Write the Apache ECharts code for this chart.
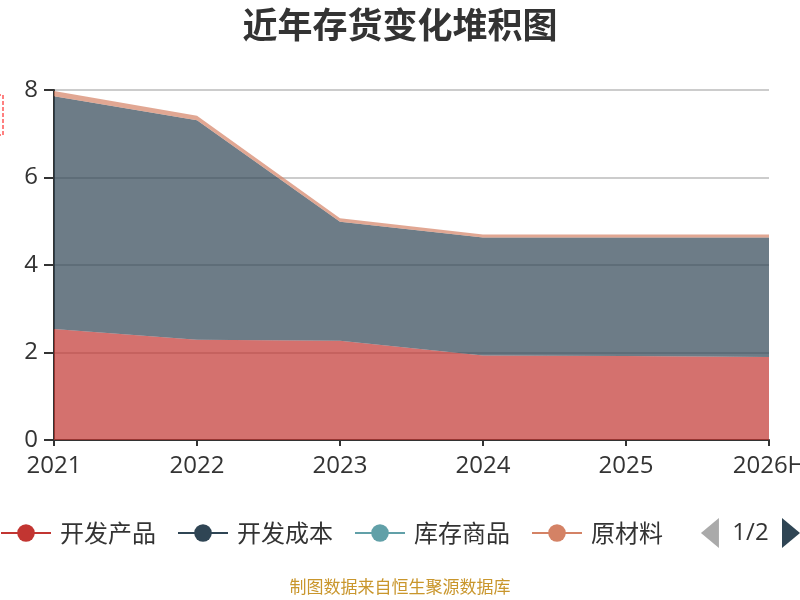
<!DOCTYPE html>
<html>
<head>
<meta charset="utf-8">
<script src="https://cdn.jsdelivr.net/npm/echarts@6/dist/echarts.min.js"></script>
<style>
  html, body { margin: 0; padding: 0; background: #fff; }
  #chart { width: 800px; height: 600px; }
</style>
</head>
<body>
<div id="chart"></div>
<script>
// 存货构成，单位：亿元
const years = ["2021", "2022", "2023", "2024", "2025", "2026H"];
const devProducts = [2.54, 2.29, 2.27, 1.93, 1.92, 1.90];   // 开发产品
const devCost = [5.32, 5.02, 2.72, 2.70, 2.71, 2.73];       // 开发成本
const goodsStock = [0, 0, 0, 0, 0, 0];                      // 库存商品
const rawMaterial = [0.12, 0.10, 0.08, 0.07, 0.07, 0.07];   // 原材料
const turnover = [0, 0, 0, 0, 0, 0];                        // 周转材料（第2页图例）

const colors = ["#c23531", "#2f4554", "#61a0a8", "#d48265", "#91c7ae"];
const font = "'Noto Sans CJK SC', 'Noto Sans', sans-serif";
const numFont = "'Open Sans', 'Noto Sans CJK SC', sans-serif";

function stackSeries(name, values) {
  return {
    name: name,
    type: "line",
    stack: "total",
    data: values,
    symbol: "circle",
    showSymbol: false,
    lineStyle: { width: 0 },
    areaStyle: { opacity: 0.7 },
  };
}

const chart = echarts.init(document.getElementById("chart"));
chart.setOption({
  color: colors,
  animation: false,
  textStyle: { fontFamily: font },
  title: {
    text: "近年存货变化堆积图",
    left: "center",
    top: 2,
    textStyle: { fontSize: 35, fontWeight: "bold", color: "#333", fontFamily: font },
  },
  graphic: [
    {
      type: "text",
      left: "center",
      top: 578,
      style: { text: "制图数据来自恒生聚源数据库", fill: "#c9962c", fontSize: 17, fontFamily: font },
    },
  ],
  legend: {
    type: "scroll",
    bottom: 47,
    left: 0,
    right: 0,
    padding: [5, 0, 5, 0],
    itemWidth: 50,
    itemHeight: 22,
    itemGap: 21,
    lineStyle: { width: 2 },
    textStyle: { fontSize: 24, color: "#333", fontFamily: font, padding: [0, 0, 0, 4] },
    pageIconColor: "#2f4554",
    pageIconInactiveColor: "#aaa",
    pageIconSize: [18, 30],
    pageButtonItemGap: 2,
    pageButtonGap: 22,
    pageTextStyle: { fontSize: 24, color: "#333", fontFamily: numFont },
    data: ["开发产品", "开发成本", "库存商品", "原材料", "周转材料"],
  },
  grid: { left: 54, right: 31, top: 90, bottom: 160, containLabel: false, outerBoundsMode: "none" },
  xAxis: {
    type: "category",
    data: years,
    boundaryGap: false,
    axisLine: { lineStyle: { color: "#333", width: 2 } },
    axisTick: { lineStyle: { color: "#333", width: 2 }, length: 6 },
    axisLabel: { fontSize: 24, color: "#333", margin: 14, fontFamily: numFont },
  },
  yAxis: {
    type: "value",
    min: 0,
    max: 8,
    interval: 2,
    name: "{b|亿元}\n{s|}",
    nameLocation: "end",
    nameRotate: 90,
    nameGap: -5,
    nameMoveOverlap: false,
    nameTextStyle: {
      align: "right",
      verticalAlign: "bottom",
      rich: {
        b: {
          color: "transparent",
          fontSize: 16,
          lineHeight: 20,
          borderColor: "red",
          borderType: "dashed",
          borderWidth: 1,
          padding: [2, 4],
        },
        s: { height: 51, lineHeight: 51 },
      },
    },
    axisLine: { show: true, lineStyle: { color: "#333", width: 2 } },
    axisTick: { show: true, lineStyle: { color: "#333", width: 2 }, length: 10 },
    axisLabel: { fontSize: 24, color: "#333", margin: 16, fontFamily: numFont },
    splitLine: { lineStyle: { color: "#ccc", width: 2 } },
  },
  series: [
    stackSeries("开发产品", devProducts),
    stackSeries("开发成本", devCost),
    stackSeries("库存商品", goodsStock),
    stackSeries("原材料", rawMaterial),
    stackSeries("周转材料", turnover),
  ],
});
window.addEventListener("resize", () => chart.resize());
</script>
</body>
</html>
